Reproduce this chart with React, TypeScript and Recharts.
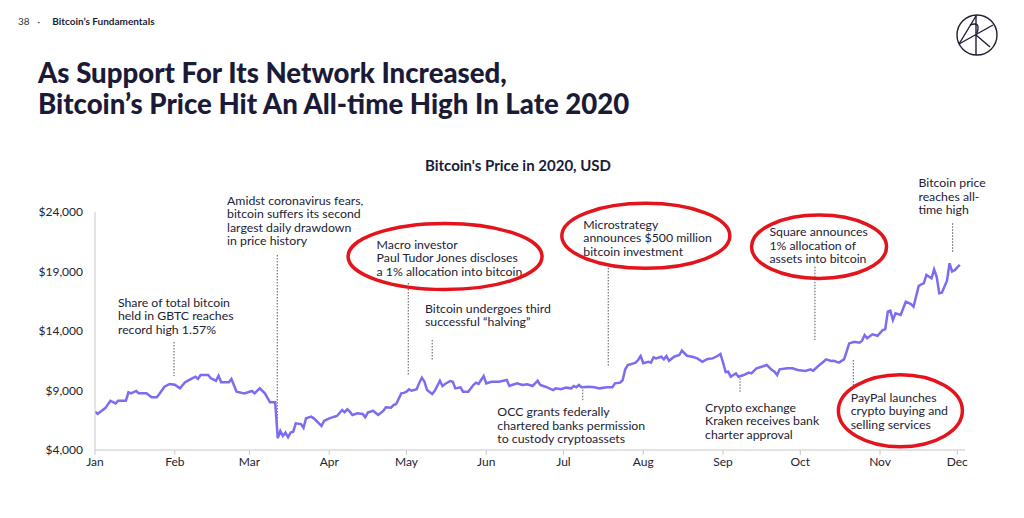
import React from 'react';
import { LineChart, Line, XAxis, YAxis, ReferenceLine, ReferenceDot } from 'recharts';

const monthLabels = ['Jan', 'Feb', 'Mar', 'Apr', 'May', 'Jun', 'Jul', 'Aug', 'Sep', 'Oct', 'Nov', 'Dec'];
const monthStartDays = [0, 31, 60, 91, 121, 152, 182, 213, 244, 274, 305, 335];
const priceTicks = [4000, 9000, 14000, 19000, 24000];

// day of year 2020 (0 = Jan 1)
const days = [
  0, 1, 3, 4, 6, 8, 9, 12, 13, 14, 16, 17, 20, 22, 24, 25, 27, 29, 31, 33, 35, 37, 39, 40, 41, 44, 45, 47, 48, 49,
  52, 53, 55, 58, 61, 62, 64, 66, 68, 70, 71, 72, 73, 74, 75, 76, 77, 78, 80, 81, 82, 84, 85, 88, 89, 91, 93, 94,
  96, 97, 98, 99, 100, 102, 104, 105, 106, 107, 108, 110, 112, 113, 115, 116, 117, 119, 120, 121, 122, 123, 125,
  126, 127, 128, 129, 131, 132, 134, 135, 136, 138, 139, 140, 142, 143, 145, 147, 148, 149, 150, 151, 152, 154,
  157, 160, 161, 162, 164, 166, 168, 170, 171, 172, 173, 175, 178, 179, 181, 183, 185, 186, 187, 188, 189, 192,
  194, 196, 199, 201, 202, 204, 205, 206, 207, 208, 210, 211, 212, 213, 215, 216, 217, 218, 220, 221, 222, 223,
  225, 227, 228, 230, 232, 234, 236, 238, 240, 242, 243, 244, 245, 246, 247, 248, 249, 250, 252, 254, 255, 257,
  259, 261, 263, 264, 265, 266, 269, 271, 273, 276, 278, 279, 281, 283, 284, 286, 287, 289, 291, 292, 293, 295,
  297, 298, 299, 300, 302, 304, 306, 307, 308, 309, 310, 311, 313, 315, 317, 318, 320, 321, 322, 323, 325, 326,
  327, 328, 329, 330, 331, 332, 333, 334, 335, 336,
];
const prices = [
  7220, 7030, 7360, 7520, 8140, 7920, 8140, 8140, 8850, 8760, 8960, 8760, 8760, 8430, 8430, 8700, 9320, 9550, 9490,
  9180, 9690, 9940, 10160, 9970, 10300, 10300, 10020, 9820, 10240, 9690,
  9690, 9970, 8900, 8760, 8960, 8760, 9180, 8760, 8010, 8010, 5000, 5600, 5180, 5460, 5070, 5460, 5540, 6240, 6180,
  5870, 6660, 6800, 6660, 6020, 6440, 6660, 6800, 6860,
  7360, 7170, 7420, 7220, 6940, 7080, 7030, 6750, 7140, 7220, 7300, 6940, 7280, 7590, 7560, 7780, 7870, 8760, 8800,
  8900, 9100, 8980, 9100,
  9660, 10080, 9740, 9040, 8700, 8980, 9820, 9380, 9550, 9800, 9740, 9180, 9270, 8900, 8900, 9460, 9660, 9550, 9880,
  10220, 9600, 9740,
  9740, 9880, 9380, 9460, 9600, 9460, 9520, 9380, 9600, 9820, 9460, 9320, 9040, 9180, 9100, 9240, 9180, 9380, 9270,
  9460, 9270, 9320,
  9270, 9180, 9270, 9270, 9600, 9660, 9880, 10780, 11140, 11200, 11340, 11560, 11900, 11290, 11420, 11340, 11790,
  11700, 11840, 11620, 11900, 11500,
  11840, 11980, 12350, 11920, 11840, 11700, 11420, 11650, 11700, 11920, 12070, 11350, 10550, 10580, 10160, 10300,
  10440, 10160, 10300, 10500, 10440, 10870,
  11000, 11140, 10720, 10580, 10300, 10780, 10870, 10870, 10720, 10640, 10780, 10660, 11060, 11420, 11620, 11480,
  11500, 11340, 11620, 12260, 12960, 13100,
  13020, 13190, 13660, 13390, 13720, 13600, 14080, 14140, 15620, 15710, 14920, 15480, 15340, 16460, 16270, 16040,
  17780, 17920, 18000, 18710, 18430, 19180,
  18560, 17170, 17220, 17720, 18230, 19690, 19000, 19100, 19350, 19550,
];

const data = days.map((d, i) => ({ day: d, price: prices[i] }));

const annotationTexts = [
  { day: 8.9, price: 16436, lines: ['Share of total bitcoin', 'held in GBTC reaches', 'record high 1.57%'] },
  { day: 51.3, price: 25008, lines: ['Amidst coronavirus fears,', 'bitcoin suffers its second', 'largest daily drawdown', 'in price history'] },
  { day: 109.4, price: 21285, lines: ['Macro investor', 'Paul Tudor Jones discloses', 'a 1% allocation into bitcoin'] },
  { day: 128.2, price: 15907, lines: ['Bitcoin undergoes third', 'successful \u201chalving\u201d'] },
  { day: 156.3, price: 7218, lines: ['OCC grants federally', 'chartered banks permission', 'to custody cryptoassets'] },
  { day: 189.7, price: 22966, lines: ['Microstrategy', 'announces $500 million', 'bitcoin investment'] },
  { day: 237, price: 7588, lines: ['Crypto exchange', 'Kraken receives bank', 'charter approval'] },
  { day: 262, price: 22344, lines: ['Square announces', '1% allocation of', 'assets into bitcoin'] },
  { day: 293.6, price: 8428, lines: ['PayPal launches', 'crypto buying and', 'selling services'] },
  { day: 319.9, price: 26461, lines: ['Bitcoin price', 'reaches all-', 'time high'] },
];

const leaderLines = [
  { day: 30.7, from: 13075, to: 10218 },
  { day: 70.8, from: 20386, to: 5513 },
  { day: 121.7, from: 18033, to: 10302 },
  { day: 131, from: 13243, to: 11504 },
  { day: 189.5, from: 9319, to: 8143 },
  { day: 199.4, from: 19546, to: 11059 },
  { day: 250.6, from: 10025, to: 8765 },
  { day: 279.7, from: 19403, to: 13243 },
  { day: 294.6, from: 11563, to: 9319 },
  { day: 333.2, from: 23050, to: 20580 },
];

const highlightCenters = [
  { day: 136, price: 20260 },
  { day: 214, price: 22000 },
  { day: 281.3, price: 21083 },
  { day: 312.9, price: 7294 },
];
const highlightRadii = [
  [97, 33],
  [84, 32.5],
  [67.5, 31.7],
  [62, 36],
];

const FONT = 'Lato, "Noto Sans", sans-serif';
const LINE_COLOR = '#7b6cf2';
const TEXT_COLOR = '#222233';

const fmtPrice = (v: number) => '$' + v.toLocaleString('en-US');

const TextBlock = (lines: string[]) => (props: any) => {
  const { cx, cy } = props;
  return (
    <text x={cx} y={cy} fontFamily={FONT} fontSize={12.3} fill={TEXT_COLOR}>
      {lines.map((l, i) => (
        <tspan key={i} x={cx} y={cy + i * 13.6} dominantBaseline="central">
          {l}
        </tspan>
      ))}
    </text>
  );
};

const EllipseShape = (rx: number, ry: number) => (props: any) => {
  const { cx, cy } = props;
  return <ellipse cx={cx} cy={cy} rx={rx} ry={ry} fill="none" stroke="#e3141c" strokeWidth={3.5} />;
};

const Logo = () => (
  <svg width={48} height={48} viewBox="0 0 48 48" style={{ position: 'absolute', left: 953, top: 11 }}>
    <g fill="none" stroke="#1d1d35" strokeWidth={1.4}>
      <circle cx={24} cy={24} r={20} />
      <line x1={23} y1={4} x2={23} y2={44} />
      <line x1={6} y1={33} x2={23} y2={5} />
      <line x1={6} y1={33} x2={40} y2={14} />
      <line x1={23} y1={24} x2={37} y2={36} />
      <path d="M17 14 Q28 10 24 22" />
    </g>
  </svg>
);

export default function App() {
  return (
    <div style={{ position: 'absolute', left: 0, top: 0, width: 1024, height: 518, background: '#fff', overflow: 'hidden' }}>
      <div style={{ position: 'absolute', left: 18, top: 15, fontFamily: FONT, fontSize: 10, color: '#333' }}>
        38
        <span style={{ marginLeft: 8, marginRight: 12 }}>·</span>
        <b style={{ color: '#1d1d35' }}>Bitcoin’s Fundamentals</b>
      </div>
      <Logo />
      <div
        style={{
          position: 'absolute',
          left: 38,
          top: 57,
          fontFamily: FONT,
          fontWeight: 900,
          fontSize: 27.6,
          lineHeight: '31px',
          color: '#1b1b38',
          whiteSpace: 'nowrap',
        }}
      >
        As Support For Its Network Increased,
        <br />
        Bitcoin’s Price Hit An All-time High In Late 2020
      </div>
      <div
        style={{
          position: 'absolute',
          left: 0,
          width: 1036,
          top: 156,
          textAlign: 'center',
          fontFamily: FONT,
          fontWeight: 700,
          fontSize: 15,
          color: '#1b1b38',
        }}
      >
        Bitcoin's Price in 2020, USD
      </div>
      <div style={{ position: 'absolute', left: 0, top: 0 }}>
        <LineChart width={1024} height={518} data={data} margin={{ top: 212, right: 59, bottom: 38, left: 35 }}>
          <XAxis
            type="number"
            dataKey="day"
            domain={[0, 338]}
            ticks={monthStartDays}
            tickFormatter={(v: number) => monthLabels[monthStartDays.indexOf(v)]}
            axisLine={{ stroke: '#c8c8c8' }}
            tickLine={{ stroke: '#c8c8c8' }}
            tick={{ fontFamily: FONT, fontSize: 12, fill: TEXT_COLOR }}
            tickSize={5}
            height={30}
            allowDataOverflow
          />
          <YAxis
            type="number"
            domain={[4000, 24000]}
            ticks={priceTicks}
            tickFormatter={fmtPrice}
            axisLine={{ stroke: '#c8c8c8' }}
            tickLine={false}
            tick={{ fontFamily: FONT, fontSize: 12, fill: TEXT_COLOR }}
            width={60}
            tickMargin={6}
            allowDataOverflow
          />
          {leaderLines.map((l, i) => (
            <ReferenceLine
              key={'l' + i}
              segment={[
                { x: l.day, y: l.from },
                { x: l.day, y: l.to },
              ]}
              stroke="#555"
              strokeWidth={1}
              strokeDasharray="1.5 1.5"
              ifOverflow="visible"
            />
          ))}
          <Line
            type="linear"
            dataKey="price"
            stroke={LINE_COLOR}
            strokeWidth={2.5}
            dot={false}
            isAnimationActive={false}
          />
          {annotationTexts.map((a, i) => (
            <ReferenceDot key={'t' + i} x={a.day} y={a.price} r={1} ifOverflow="visible" shape={TextBlock(a.lines)} />
          ))}
          {highlightCenters.map((c, i) => (
            <ReferenceDot
              key={'e' + i}
              x={c.day}
              y={c.price}
              r={1}
              ifOverflow="visible"
              shape={EllipseShape(highlightRadii[i][0], highlightRadii[i][1])}
            />
          ))}
        </LineChart>
      </div>
    </div>
  );
}
